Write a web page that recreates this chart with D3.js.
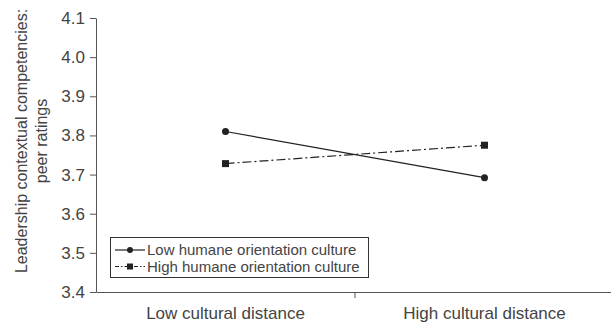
<!DOCTYPE html>
<html><head><meta charset="utf-8">
<script src="https://cdn.jsdelivr.net/npm/d3@7"></script>
<style>body{margin:0;background:#fff;} svg{display:block;} text{font-family:"Liberation Sans",Arial,sans-serif;}</style>
</head><body>
<svg id="c" width="611" height="325"></svg>
<script>
const categories = ["Low cultural distance", "High cultural distance"];
const lowHumane = [3.81, 3.692];
const highHumane = [3.728, 3.775];
const seriesNames = ["Low humane orientation culture", "High humane orientation culture"];
const yTicks = [3.4, 3.5, 3.6, 3.7, 3.8, 3.9, 4.0, 4.1];

(function () {
const svg = d3.select("#c");
const mLeft = 96, mRight = 614, mTop = 18, mBottom = 292;
const x = d3.scaleBand().domain(categories).range([mLeft, mRight]);
const y = d3.scaleLinear().domain([3.4, 4.1]).range([mBottom, mTop]);
const textCol = "#444", axisCol = "#555", lineCol = "#222";

// y axis
const ya = svg.append("g").attr("transform", `translate(${mLeft},0)`)
  .call(d3.axisLeft(y).tickValues(yTicks).tickFormat(d3.format(".1f")).tickSize(6).tickSizeOuter(0));
ya.select(".domain").attr("stroke", axisCol);
ya.selectAll(".tick line").attr("stroke", axisCol);
ya.selectAll(".tick text").attr("fill", textCol).attr("font-size", 17).attr("x", -11);

// x axis
const xa = svg.append("g").attr("transform", `translate(0,${mBottom})`)
  .call(d3.axisBottom(x).tickSize(0).tickSizeOuter(0));
xa.select(".domain").attr("stroke", axisCol);
xa.selectAll(".tick text").attr("fill", textCol).attr("font-size", 17).attr("y", 27).attr("dy", 0);
// middle tick between categories
svg.append("line").attr("x1", x.range()[0] + x.step()).attr("x2", x.range()[0] + x.step())
  .attr("y1", mBottom).attr("y2", mBottom + 6).attr("stroke", axisCol);

// y title
const yt = svg.append("text").attr("transform", `translate(27,141) rotate(-90)`)
  .attr("text-anchor", "middle").attr("fill", textCol).attr("font-size", 16);
yt.append("tspan").attr("x", 0).attr("y", 0).text("Leadership contextual competencies:");
yt.append("tspan").attr("x", 0).attr("y", 20).text("peer ratings");

const cx = d => x(d) + x.bandwidth() / 2;
const line = d3.line().x((d, i) => cx(categories[i])).y(d => y(d));

svg.append("path").datum(lowHumane).attr("d", line).attr("fill", "none").attr("stroke", lineCol).attr("stroke-width", 1.2);
svg.append("path").datum(highHumane).attr("d", line).attr("fill", "none").attr("stroke", lineCol).attr("stroke-width", 1.2).attr("stroke-dasharray", "9,3,2,3");

svg.selectAll(".c1").data(lowHumane).enter().append("circle")
  .attr("cx", (d, i) => cx(categories[i])).attr("cy", d => y(d)).attr("r", 3.5).attr("fill", lineCol);
svg.selectAll(".s1").data(highHumane).enter().append("rect")
  .attr("x", (d, i) => cx(categories[i]) - 3.5).attr("y", d => y(d) - 3.5).attr("width", 7).attr("height", 7).attr("fill", lineCol);

// legend
const lg = svg.append("g");
lg.append("rect").attr("x", 110.5).attr("y", 237.5).attr("width", 258).attr("height", 40)
  .attr("fill", "#fff").attr("stroke", "#333").attr("stroke-width", 1);
const rows = [250, 266.5];
seriesNames.forEach((n, i) => {
  const yy = rows[i];
  lg.append("line").attr("x1", 115).attr("x2", 145).attr("y1", yy).attr("y2", yy)
    .attr("stroke", lineCol).attr("stroke-width", 1.2).attr("stroke-dasharray", i ? "4,2,1.5,2" : null);
  if (i === 0) lg.append("circle").attr("cx", 130).attr("cy", yy).attr("r", 3).attr("fill", lineCol);
  else lg.append("rect").attr("x", 127).attr("y", yy - 3).attr("width", 6).attr("height", 6).attr("fill", lineCol);
  lg.append("text").attr("x", 147).attr("y", yy).attr("dy", "0.35em").attr("fill", textCol)
    .attr("font-size", 15).text(n);
});
})();
</script>
</body></html>
